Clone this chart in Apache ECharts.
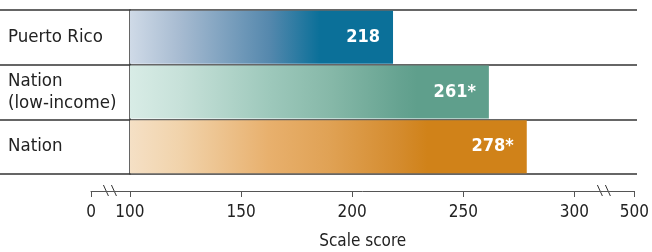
<!DOCTYPE html>
<html>
<head>
<meta charset="utf-8">
<script src="https://cdn.jsdelivr.net/npm/echarts@6/dist/echarts.min.js"></script>
<style>
  html, body { margin: 0; padding: 0; background: #fff; }
  #chart { width: 652px; height: 252px; }
</style>
</head>
<body>
<div id="chart"></div>
<script>
var categories = ['Puerto Rico', 'Nation\n(low-income)', 'Nation'];
var scores = [218, 261, 278];
var scoreMarks = ['', '*', '*'];
var tickValues = [0, 100, 150, 200, 250, 300, 500];
var tickLabels = ['0', '100', '150', '200', '250', '300', '500'];

var FONT = '"DejaVu Sans Condensed", "Liberation Sans Narrow", sans-serif';
var LINE = '#333';

// bar gradients, light -> full colour
var barStops = [
    [[0, '#cfdae7'], [0.19, '#a7bbd1'], [0.53, '#5588ad'], [0.72, '#0b7099'], [1, '#0b7099']],
    [[0, '#d8ece6'], [0.14, '#c7e1d9'], [0.39, '#9dc8bb'], [0.56, '#86b8a8'], [0.75, '#66a391'], [0.8, '#5f9f8c'], [1, '#5f9f8c']],
    [[0, '#f5e0c5'], [0.126, '#f1d3ab'], [0.35, '#e8b06d'], [0.5, '#e0a255'], [0.68, '#d48b2d'], [0.75, '#d08219'], [1, '#d08219']]
];

// broken scale: 0..100 and 300..500 squeezed
function toAxis(v){
    if(v < 100) return 100 - 17.5 * (100 - v) / 100;
    if(v > 300) return 300 + 27 * (v - 300) / 200;
    return v;
}

var axisLeft = 91, axisRight = 16, barLeft = 130, barRight = 15;
var pxPerUnit = (652 - axisRight - axisLeft) / (toAxis(500) - toAxis(0));
var barMax = 100 + (652 - barRight - barLeft) / pxPerUnit;

var myChart = echarts.init(document.getElementById('chart'));

var option = {
    animation: false,
    grid: [
        {left: barLeft, right: barRight, top: 10, height: 164},
        {left: axisLeft, right: axisRight, top: 190, height: 1}
    ],
    xAxis: [
        {gridIndex: 0, type: 'value', min: 100, max: barMax, show: false},
        {
            gridIndex: 1, type: 'value', min: toAxis(0), max: toAxis(500),
            position: 'bottom',
            axisLine: {show: true, lineStyle: {color: '#555', width: 1}},
            axisTick: {show: true, length: 6, lineStyle: {color: '#555'},
                customValues: tickValues.map(toAxis)},
            axisLabel: {
                customValues: tickValues.map(toAxis),
                margin: 13, fontSize: 17, color: '#222', fontFamily: FONT,
                formatter: function(v){
                    var i = tickValues.map(toAxis).indexOf(v);
                    return i >= 0 ? tickLabels[i] : '';
                }
            },
            splitLine: {show: false},
            name: 'Scale score', nameLocation: 'middle', nameGap: 42,
            nameTextStyle: {fontSize: 17, color: '#222', fontFamily: FONT}
        }
    ],
    yAxis: [
        {
            gridIndex: 0, type: 'category', data: categories, inverse: true,
            axisLine: {show: true, lineStyle: {color: LINE, width: 1.5}},
            axisTick: {show: true, length: barLeft, lineStyle: {color: LINE, width: 1.5}},
            axisLabel: {align: 'left', margin: barLeft - 8, fontSize: 18.5, lineHeight: 22,
                color: '#222', fontFamily: FONT},
            splitLine: {show: true, lineStyle: {color: LINE, width: 1.5}}
        },
        {gridIndex: 1, type: 'value', show: false}
    ],
    series: [
        {
            type: 'bar', stack: 'score', silent: true,
            data: scores.map(function(){ return 100; }),
            itemStyle: {color: 'transparent'}
        },
        {
            type: 'bar', stack: 'score', barCategoryGap: '3%',
            data: scores.map(function(v, i){
                return {
                    value: v - 100,
                    itemStyle: {color: new echarts.graphic.LinearGradient(0, 0, 1, 0,
                        barStops[i].map(function(s){ return {offset: s[0], color: s[1]}; }))}
                };
            }),
            label: {
                show: true, position: 'insideRight', distance: 13,
                color: '#fff', fontSize: 18, fontWeight: 'bold', fontFamily: FONT,
                formatter: function(p){ return scores[p.dataIndex] + scoreMarks[p.dataIndex]; }
            }
        }
    ]
};
myChart.setOption(option);

// axis break marks
function breakMark(v){
    var c = myChart.convertToPixel({xAxisIndex: 1}, v);
    var y = 191;
    return [
        {type: 'rect', shape: {x: c - 7, y: y - 2, width: 14, height: 4}, style: {fill: '#fff'}},
        {type: 'line', shape: {x1: c - 7, y1: y - 6, x2: c - 2, y2: y + 5}, style: {stroke: '#333', lineWidth: 1}},
        {type: 'line', shape: {x1: c + 1, y1: y - 6, x2: c + 6, y2: y + 5}, style: {stroke: '#333', lineWidth: 1}}
    ];
}
var marks = breakMark((toAxis(0) + toAxis(100)) / 2).concat(breakMark((toAxis(300) + toAxis(500)) / 2));
myChart.setOption({graphic: marks});

window.onresize = function(){
    myChart.resize();
};
</script>
</body>
</html>
